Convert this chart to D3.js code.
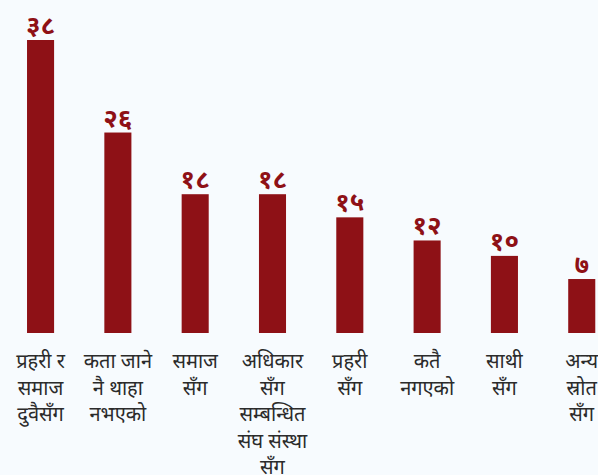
<!DOCTYPE html>
<html>
<head>
<meta charset="utf-8">
<script src="https://cdn.jsdelivr.net/npm/d3@7"></script>
<style>
  html, body { margin: 0; padding: 0; background: #f7fbfe; }
  svg { display: block; }
</style>
</head>
<body>
<svg id="chart"></svg>
<script>
// chart data
const categories = [
    "प्रहरी र समाज दुवैसँग",
    "कता जाने नै थाहा नभएको",
    "समाज सँग",
    "अधिकार सँग सम्बन्धित संघ संस्था सँग",
    "प्रहरी सँग",
    "कतै नगएको",
    "साथी सँग",
    "अन्य स्रोत सँग"
];
const values = [38, 26, 18, 18, 15, 12, 10, 7];
// how each label is broken into lines
const labelLines = [
    ["प्रहरी र", "समाज", "दुवैसँग"],
    ["कता जाने", "नै थाहा", "नभएको"],
    ["समाज", "सँग"],
    ["अधिकार", "सँग", "सम्बन्धित", "संघ संस्था", "सँग"],
    ["प्रहरी", "सँग"],
    ["कतै", "नगएको"],
    ["साथी", "सँग"],
    ["अन्य", "स्रोत", "सँग"]
];

const width = 598, height = 475;
const margin = {top: 40, bottom: 142};

const nepaliDigits = "०१२३४५६७८९";
const toNepali = n => String(n).split("").map(c => nepaliDigits[+c]).join("");

const data = categories.map((c, i) => ({cat: c, value: values[i], lines: labelLines[i]}));

const svg = d3.select("#chart")
    .attr("width", width)
    .attr("height", height);

// SCALES
const xScale = d3.scaleBand()
    .domain(categories)
    .range([1.9, 620.4])
    .paddingInner(0.65)
    .paddingOuter(0.325);

const yScale = d3.scaleLinear()
    .domain([0, 38])
    .range([height - margin.bottom, margin.top]);

// BARS
svg.selectAll("rect.bar")
    .data(data)
    .join("rect")
    .attr("class", "bar")
    .attr("x", d => xScale(d.cat))
    .attr("y", d => yScale(d.value))
    .attr("width", xScale.bandwidth())
    .attr("height", d => yScale(0) - yScale(d.value))
    .attr("fill", "#8e1116");

// BAR NUMBERS
svg.selectAll("text.bar-num")
    .data(data)
    .join("text")
    .attr("class", "bar-num")
    .attr("x", d => xScale(d.cat) + xScale.bandwidth() / 2)
    .attr("y", d => yScale(d.value) - 6)
    .attr("text-anchor", "middle")
    .attr("fill", "#8e1116")
    .style("font-family", "'Noto Sans Devanagari', 'Noto Sans', sans-serif")
    .style("font-size", "26px")
    .style("font-weight", "bold")
    .text(d => toNepali(d.value));

// CATEGORY LABELS
const labels = svg.selectAll("text.cat-label")
    .data(data)
    .join("text")
    .attr("class", "cat-label")
    .attr("x", d => xScale(d.cat) + xScale.bandwidth() / 2)
    .attr("y", yScale(0) + 35)
    .attr("text-anchor", "middle")
    .attr("fill", "#2b2b2b")
    .style("font-family", "'Noto Sans Devanagari', 'Noto Sans', sans-serif")
    .style("font-size", "20px");

labels.selectAll("tspan")
    .data(d => d.lines.map(l => ({line: l, x: xScale(d.cat) + xScale.bandwidth() / 2})))
    .join("tspan")
    .attr("x", d => d.x)
    .attr("dy", (d, i) => i === 0 ? 0 : 26.5)
    .text(d => d.line);
</script>
</body>
</html>
